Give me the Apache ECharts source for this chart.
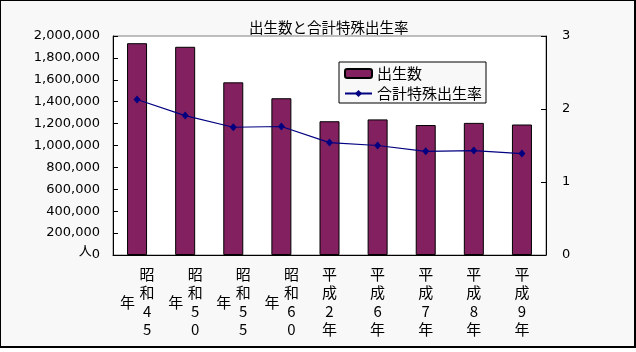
<!DOCTYPE html>
<html>
<head>
<meta charset="utf-8">
<script src="https://cdn.jsdelivr.net/npm/echarts@6/dist/echarts.min.js"></script>
<style>
html, body { margin: 0; padding: 0; background: #fff; }
#frame {
  position: absolute; left: 0; top: 0;
  width: 636px; height: 348px;
  box-sizing: border-box;
  background: #f8f8f8;
  border: 1px solid #000;
  border-right-width: 2px;
  border-bottom-width: 2px;
}
#chart { position: absolute; left: 0; top: 0; width: 636px; height: 352px; }
</style>
</head>
<body>
<div id="frame"></div>
<div id="chart"></div>
<script>
// 年次
const categories = ['昭和45年', '昭和50年', '昭和55年', '昭和60年', '平成2年', '平成6年', '平成7年', '平成8年', '平成9年'];
// 出生数（人）
const births = [1934239, 1901440, 1576889, 1431577, 1221585, 1238328, 1187064, 1206555, 1191665];
// 合計特殊出生率
const fertility = [2.13, 1.91, 1.75, 1.76, 1.54, 1.50, 1.42, 1.43, 1.39];
// 目盛り
const leftMax = 2000000, leftStep = 200000;
const rightMax = 3, rightStep = 1;

const cjk = '"Noto Sans CJK JP", sans-serif';
const num = '"DejaVu Sans", sans-serif';

// 縦書きラベル
const vert = s => s.split('').join('\n');
const mainLabel = name => name.startsWith('昭和')
  ? '{s|' + vert(name.slice(0, -1)) + '}'
  : '{h|' + vert(name) + '}';
const yearLabel = name => name.startsWith('昭和') ? '{y|年}' : '';

const chart = echarts.init(document.getElementById('chart'));
chart.setOption({
  backgroundColor: 'transparent',
  animation: false,
  title: {
    text: '出生数と合計特殊出生率',
    left: 244, top: 15,
    textStyle: { fontFamily: cjk, fontSize: 14.5, fontWeight: 'normal', color: '#000' }
  },
  legend: {
    data: ['出生数', '合計特殊出生率'],
    orient: 'vertical',
    left: 339, top: 62,
    padding: [4, 4, 2, 5],
    itemGap: 5,
    itemWidth: 27, itemHeight: 9,
    backgroundColor: '#f8f8f8',
    borderColor: '#000', borderWidth: 1,
    textStyle: { fontFamily: cjk, fontSize: 15, color: '#000' }
  },
  grid: {
    left: 113, right: 90, top: 36, bottom: 97,
    show: true, backgroundColor: '#fff',
    borderColor: '#808080', borderWidth: 1
  },
  xAxis: [{
    type: 'category',
    data: categories,
    axisLine: { lineStyle: { color: '#000', width: 1 } },
    axisTick: { inside: true, length: 4, lineStyle: { color: '#000' } },
    axisLabel: {
      interval: 0, margin: 10, color: '#000',
      formatter: mainLabel,
      rich: {
        s: { fontFamily: cjk, fontSize: 15, lineHeight: 18.5, color: '#000', padding: [0, 0, 0, 20] },
        h: { fontFamily: cjk, fontSize: 15, lineHeight: 18.5, color: '#000' }
      }
    }
  }, {
    type: 'category',
    data: categories,
    position: 'bottom',
    axisLine: { show: false },
    axisTick: { show: false },
    axisLabel: {
      interval: 0, margin: 38, color: '#000',
      formatter: yearLabel,
      rich: {
        y: { fontFamily: cjk, fontSize: 15, lineHeight: 18.5, color: '#000', padding: [0, 19, 0, 0] }
      }
    }
  }],
  yAxis: [{
    type: 'value',
    min: 0, max: leftMax, interval: leftStep,
    axisLine: { show: true, lineStyle: { color: '#000' } },
    axisTick: { show: true, inside: true, length: 5, lineStyle: { color: '#000' } },
    splitLine: { show: false },
    axisLabel: {
      margin: 13, color: '#000', fontFamily: num, fontSize: 13,
      formatter: v => v === 0 ? '{u|人}{n|0}' : v.toLocaleString('en-US'),
      rich: {
        u: { fontFamily: cjk, fontSize: 13, color: '#000', padding: [0, 0, 10, 0] },
        n: { fontFamily: num, fontSize: 13, color: '#000' }
      }
    }
  }, {
    type: 'value',
    min: 0, max: rightMax, interval: rightStep,
    position: 'right',
    axisLine: { show: true, lineStyle: { color: '#000' } },
    axisTick: { show: true, inside: true, length: 5, lineStyle: { color: '#000' } },
    splitLine: { show: false },
    axisLabel: { margin: 16, color: '#000', fontFamily: num, fontSize: 13 }
  }],
  series: [{
    name: '出生数',
    type: 'bar',
    data: births,
    barWidth: 20,
    itemStyle: { color: '#822060', borderColor: '#000', borderWidth: 1 }
  }, {
    name: '合計特殊出生率',
    type: 'line',
    yAxisIndex: 1,
    data: fertility,
    symbol: 'diamond',
    symbolSize: [7, 8],
    lineStyle: { color: '#000080', width: 1.2 },
    itemStyle: { color: '#000080' }
  }]
});
</script>
</body>
</html>
